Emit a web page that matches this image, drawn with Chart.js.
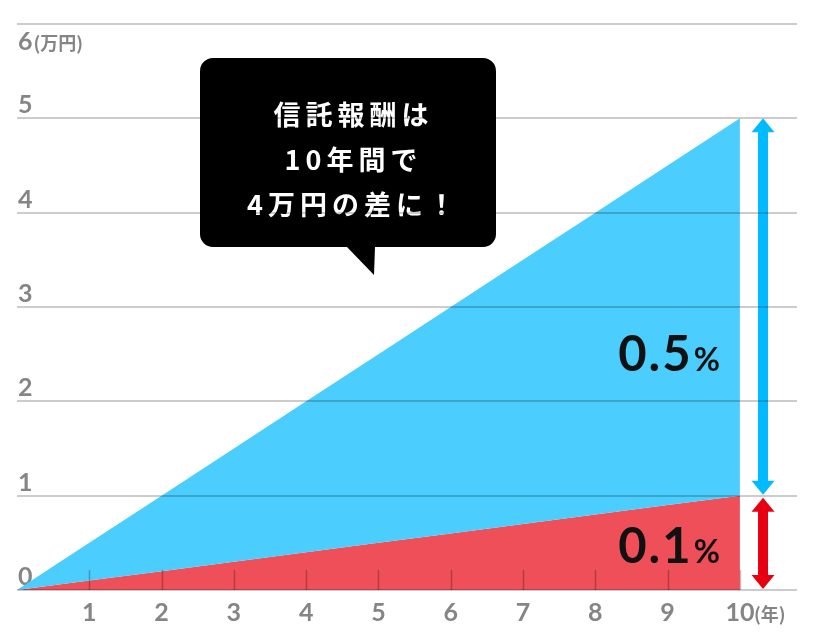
<!DOCTYPE html>
<html>
<head>
<meta charset="utf-8">
<script src="https://cdn.jsdelivr.net/npm/chart.js@4/dist/chart.umd.min.js"></script>
<style>
  html, body { margin: 0; padding: 0; background: #fff; }
  #wrap { width: 816px; height: 638px; position: relative; }
</style>
</head>
<body>
<div id="wrap"><canvas id="feeChart" width="816" height="638"></canvas></div>
<script>
// 経過年数と信託報酬の累計（万円）
var years = [0, 1, 2, 3, 4, 5, 6, 7, 8, 9, 10];
var fee05 = [0, 0.5, 1.0, 1.5, 2.0, 2.5, 3.0, 3.5, 4.0, 4.5, 5.0];
var fee01 = [0, 0.1, 0.2, 0.3, 0.4, 0.5, 0.6, 0.7, 0.8, 0.9, 1.0];
var xTicks = [1, 2, 3, 4, 5, 6, 7, 8, 9, 10];
var yTicks = [0, 1, 2, 3, 4, 5, 6];
var calloutLines = ['信託報酬は', '10年間で', '4万円の差に！'];

var GRAY = '#858585';

function toPoints(xs, ys) {
    return xs.map(function (x, i) { return { x: x, y: ys[i] }; });
}

// 矢印（上下両方向）
function drawDoubleArrow(ctx, x, yTop, yBottom, color) {
    var shaft = 10, headW = 23, headH = 14;
    ctx.save();
    ctx.fillStyle = color;
    ctx.fillRect(x - shaft / 2, yTop + headH - 1, shaft, yBottom - yTop - 2 * headH + 2);
    ctx.beginPath();
    ctx.moveTo(x, yTop);
    ctx.lineTo(x + headW / 2, yTop + headH);
    ctx.lineTo(x - headW / 2, yTop + headH);
    ctx.closePath();
    ctx.fill();
    ctx.beginPath();
    ctx.moveTo(x, yBottom);
    ctx.lineTo(x + headW / 2, yBottom - headH);
    ctx.lineTo(x - headW / 2, yBottom - headH);
    ctx.closePath();
    ctx.fill();
    ctx.restore();
}

// パーセント表記（数字＋小さい%）
function drawPercent(ctx, right, cy, num) {
    ctx.save();
    ctx.fillStyle = '#111';
    ctx.textBaseline = 'alphabetic';
    ctx.textAlign = 'right';
    ctx.font = 'bold 32px Lato';
    ctx.fillText('%', right, cy + 17);
    var w = ctx.measureText('%').width;
    ctx.font = 'bold 49px Lato';
    ctx.letterSpacing = '2px';
    ctx.fillText(num, right - w - 1, cy + 17);
    ctx.restore();
}

var extrasPlugin = {
    id: 'extras',
    afterDatasetsDraw: function (chart) {
        var ctx = chart.ctx;
        var xs = chart.scales.x, ys = chart.scales.y;
        var base = ys.getPixelForValue(0);

        // 目盛り線（エリア内の短い線）
        ctx.save();
        ctx.strokeStyle = 'rgba(0,0,0,0.25)';
        ctx.lineWidth = 1.5;
        xTicks.forEach(function (v) {
            var px = Math.round(xs.getPixelForValue(v)) + 0.5;
            ctx.beginPath();
            ctx.moveTo(px, base);
            ctx.lineTo(px, base - 20);
            ctx.stroke();
        });
        ctx.restore();

        // 単位
        ctx.save();
        ctx.fillStyle = GRAY;
        ctx.textBaseline = 'middle';
        ctx.textAlign = 'left';
        ctx.font = 'bold 25px Lato';
        var y6 = ys.getPixelForValue(6) + 18;
        ctx.fillText('6', chart.chartArea.left + 1, y6);
        var w6 = ctx.measureText('6').width;
        ctx.font = 'bold 18px "Noto Sans CJK JP"';
        ctx.fillText('(万円)', chart.chartArea.left + w6 + 2, y6 + 1);
        ctx.fillText('(年)', xs.getPixelForValue(10) + 14, 614);
        ctx.restore();

        // 矢印
        var ax = xs.getPixelForValue(10.32);
        drawDoubleArrow(ctx, ax, ys.getPixelForValue(5), ys.getPixelForValue(1) - 1, '#00bbff');
        drawDoubleArrow(ctx, ax, ys.getPixelForValue(1) + 2, base - 1, '#e60012');

        // ラベル
        var right = xs.getPixelForValue(10) - 20;
        drawPercent(ctx, right, ys.getPixelForValue(2.5), '0.5');
        drawPercent(ctx, right, ys.getPixelForValue(0.47), '0.1');

        // 吹き出し
        var bx = 200, by = 58, bw = 296, bh = 189, r = 13;
        ctx.save();
        ctx.fillStyle = '#000';
        ctx.beginPath();
        ctx.moveTo(bx + r, by);
        ctx.lineTo(bx + bw - r, by);
        ctx.arcTo(bx + bw, by, bx + bw, by + r, r);
        ctx.lineTo(bx + bw, by + bh - r);
        ctx.arcTo(bx + bw, by + bh, bx + bw - r, by + bh, r);
        ctx.lineTo(375, by + bh);
        ctx.lineTo(374, 275);
        ctx.lineTo(347, by + bh);
        ctx.lineTo(bx + r, by + bh);
        ctx.arcTo(bx, by + bh, bx, by + bh - r, r);
        ctx.lineTo(bx, by + r);
        ctx.arcTo(bx, by, bx + r, by, r);
        ctx.closePath();
        ctx.fill();
        ctx.fillStyle = '#fff';
        ctx.font = 'bold 27px "Noto Sans CJK JP"';
        ctx.textAlign = 'center';
        ctx.textBaseline = 'middle';
        ctx.letterSpacing = '5px';
        calloutLines.forEach(function (line, i) {
            ctx.fillText(line, 351 + 2.5, 115 + i * 45);
        });
        ctx.restore();
    }
};

var ctxFee = document.getElementById('feeChart').getContext('2d');
var feeChart = new Chart(ctxFee, {
    type: 'line',
    data: {
        datasets: [{
            label: '0.5%',
            data: toPoints(years, fee05),
            backgroundColor: '#4bcefd',
            borderWidth: 0,
            pointRadius: 0,
            fill: '+1'
        }, {
            label: '0.1%',
            data: toPoints(years, fee01),
            backgroundColor: '#ef4f58',
            borderWidth: 0,
            pointRadius: 0,
            fill: 'origin'
        }]
    },
    options: {
        responsive: false,
        animation: false,
        layout: { padding: { left: 17, right: 19, top: 24, bottom: 0 } },
        plugins: {
            legend: { display: false },
            tooltip: { enabled: false }
        },
        scales: {
            x: {
                type: 'linear',
                min: 0,
                max: 10.79,
                grid: { display: false },
                border: { display: false },
                afterBuildTicks: function (s) {
                    s.ticks = xTicks.map(function (v) { return { value: v }; });
                },
                afterFit: function (s) { s.height = 48; },
                ticks: {
                    color: GRAY,
                    padding: 0,
                    maxRotation: 0,
                    autoSkip: false,
                    font: { family: 'Lato', size: 25, weight: 'bold' }
                }
            },
            y: {
                min: 0,
                max: 6,
                afterBuildTicks: function (s) {
                    s.ticks = yTicks.map(function (v) { return { value: v }; });
                },
                afterFit: function (s) { s.width = 0; },
                border: { display: false },
                grid: {
                    color: 'rgba(0,0,0,0.2)',
                    lineWidth: 2,
                    drawTicks: false,
                    z: 1
                },
                ticks: {
                    mirror: true,
                    padding: 1,
                    labelOffset: -13,
                    color: GRAY,
                    font: { family: 'Lato', size: 25, weight: 'bold' },
                    callback: function (v) { return v === 6 ? '' : String(v); }
                }
            }
        }
    },
    plugins: [extrasPlugin]
});
</script>
</body>
</html>
